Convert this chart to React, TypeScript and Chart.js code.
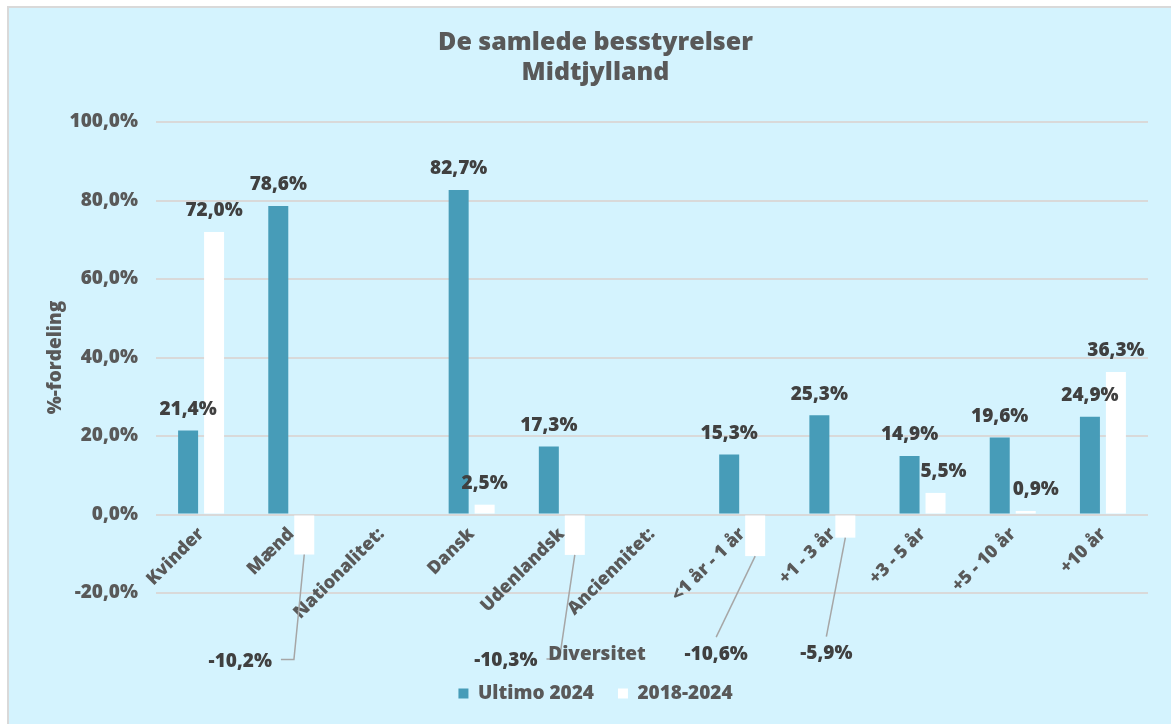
import React, { useEffect, useRef } from 'react';
import { Chart, registerables } from 'chart.js';

Chart.register(...registerables);

// ---------- data ----------
const titleLines = ['De samlede besstyrelser', 'Midtjylland'];
const yAxisTitle = '%-fordeling';
const xAxisTitle = 'Diversitet';
const seriesNames = ['Ultimo 2024', '2018-2024'];
const categories = [
  'Kvinder',
  'Mænd',
  'Nationalitet:',
  'Dansk',
  'Udenlandsk',
  'Anciennitet:',
  '<1 år - 1 år',
  '+1 - 3 år',
  '+3 - 5 år',
  '+5 - 10 år',
  '+10 år',
];
const ultimo2024: (number | null)[] = [21.4, 78.6, null, 82.7, 17.3, null, 15.3, 25.3, 14.9, 19.6, 24.9];
const change2018to2024: (number | null)[] = [72.0, -10.2, null, 2.5, -10.3, null, -10.6, -5.9, 5.5, 0.9, 36.3];
const yMin = -20;
const yMax = 100;
const yStep = 20;

// ---------- style ----------
const FONT = '"Open Sans", "DejaVu Sans", sans-serif';
const WEIGHT = '800';
const BG = '#D4F3FE';
const TEAL = '#479CB8';
const WHITE = '#FFFFFF';
const TEXT = '#595959';
const LABEL_TEXT = '#404040';
const GRID = '#D9D9D9';

// label placement tweaks (pixels) for data labels of the second series
const posLabelNudge: Record<number, number> = { 8: 8, 9: 10 };
// negative labels: [dx, dy, elbow] from bar end
const negLabelPlace: Record<number, [number, number, boolean]> = {
  1: [-64, 107, true],
  4: [-69, 106, true],
  6: [-39, 98, false],
  7: [-19, 116, false],
};

const fmt = (v: number) => v.toFixed(1).replace('.', ',') + '%';

const labelPlugin = {
  id: 'valueLabels',
  afterDatasetsDraw(chart: any) {
    const ctx = chart.ctx as CanvasRenderingContext2D;
    ctx.save();
    ctx.font = `${WEIGHT} 19px ${FONT}`;
    ctx.textAlign = 'center';
    ctx.textBaseline = 'middle';
    chart.data.datasets.forEach((ds: any, di: number) => {
      const meta = chart.getDatasetMeta(di);
      meta.data.forEach((el: any, i: number) => {
        const v = ds.data[i];
        if (v === null || v === undefined) return;
        const text = fmt(v);
        if (v >= 0) {
          const nudge = di === 1 ? posLabelNudge[i] || 0 : 0;
          ctx.fillStyle = LABEL_TEXT;
          ctx.fillText(text, el.x + nudge, el.y - 21);
        } else {
          const place = negLabelPlace[i] || [0, 40, false];
          const lx = el.x + place[0];
          const ly = el.y + place[1];
          const hw = ctx.measureText(text).width / 2;
          ctx.strokeStyle = '#A6A6A6';
          ctx.lineWidth = 1.5;
          ctx.beginPath();
          ctx.moveTo(el.x, el.y);
          if (place[2]) {
            ctx.lineTo(lx + hw + 22, ly - 2);
            ctx.lineTo(lx + hw + 9, ly - 2);
          } else {
            ctx.lineTo(lx, ly - 17);
          }
          ctx.stroke();
          ctx.fillStyle = LABEL_TEXT;
          ctx.fillText(text, lx, ly);
        }
      });
    });
    // x-axis title
    const area = chart.chartArea;
    const yScale = chart.scales.y;
    ctx.fillStyle = TEXT;
    ctx.font = `${WEIGHT} 19px ${FONT}`;
    ctx.fillText(xAxisTitle, area.left + 0.4446 * (area.right - area.left), yScale.getPixelForValue(yMin) + 62);
    ctx.restore();
  },
};

export default function App() {
  const canvasRef = useRef<HTMLCanvasElement | null>(null);

  useEffect(() => {
    if (!canvasRef.current) return;
    const tickFont = { family: FONT, size: 19, weight: WEIGHT };
    const chart = new Chart(canvasRef.current, {
      type: 'bar',
      data: {
        labels: categories,
        datasets: [
          {
            label: seriesNames[0],
            data: ultimo2024,
            backgroundColor: TEAL,
            borderWidth: 0,
            categoryPercentage: 0.576,
            barPercentage: 0.77,
          },
          {
            label: seriesNames[1],
            data: change2018to2024,
            backgroundColor: WHITE,
            borderWidth: 0,
            categoryPercentage: 0.576,
            barPercentage: 0.77,
          },
        ],
      },
      options: {
        responsive: false,
        animation: false,
        layout: { padding: { left: 34, right: 23, top: 0, bottom: 11 } },
        plugins: {
          title: {
            display: true,
            text: titleLines,
            color: TEXT,
            font: { family: FONT, size: 25, weight: WEIGHT, lineHeight: '30px' },
            padding: { top: 20, bottom: 34 },
          },
          legend: {
            position: 'bottom',
            labels: {
              boxWidth: 10,
              boxHeight: 10,
              color: TEXT,
              font: tickFont,
              padding: 24,
            },
          },
          tooltip: { enabled: false },
        },
        scales: {
          x: {
            position: { y: 0 },
            grid: { display: false, drawTicks: false },
            border: { display: false },
            ticks: {
              autoSkip: false,
              maxRotation: 45,
              minRotation: 45,
              padding: 9,
              color: TEXT,
              font: { family: FONT, size: 18, weight: WEIGHT },
            },
          },
          space: {
            type: 'category',
            labels: categories,
            position: 'bottom',
            display: true,
            grid: { display: false, drawTicks: false },
            border: { display: false },
            ticks: { display: false },
            afterFit: (s: any) => {
              s.height = 67;
            },
          },
          y: {
            min: yMin,
            max: yMax,
            ticks: {
              stepSize: yStep,
              padding: 18,
              color: TEXT,
              font: tickFont,
              callback: (v: any) => fmt(Number(v)),
            },
            grid: { color: GRID, lineWidth: 2, drawTicks: false },
            border: { display: false },
            title: {
              display: true,
              text: yAxisTitle,
              color: TEXT,
              font: tickFont,
              padding: { top: 1, bottom: 0 },
            },
            afterFit: (s: any) => {
              s.width = 113;
            },
          },
        },
      } as any,
      plugins: [labelPlugin],
    });
    return () => chart.destroy();
  }, []);

  return (
    <div
      style={{
        position: 'fixed',
        left: 7,
        top: 6,
        width: 1200,
        height: 760,
        borderLeft: '2px solid #D9D9D9',
        borderTop: '2px solid #D9D9D9',
        background: BG,
        overflow: 'hidden',
      }}
    >
      <canvas ref={canvasRef} width={1162} height={716} style={{ display: 'block' }} />
    </div>
  );
}
